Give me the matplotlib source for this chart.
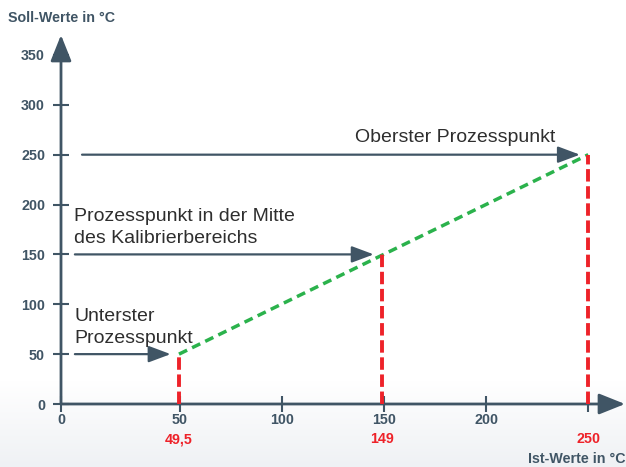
import numpy as np
import matplotlib
matplotlib.use("Agg")
import matplotlib.pyplot as plt
from matplotlib.colors import to_rgb

plt.rcParams['font.family'] = ['Liberation Sans', 'DejaVu Sans']

# data
ist_werte = [49.5, 149, 250]          # x: Ist-Werte in °C
soll_werte = [50, 150, 250]           # y: Soll-Werte in °C
ist_labels = ['49,5', '149', '250']
y_ticks = [0, 50, 100, 150, 200, 250, 300, 350]
x_ticks = [50, 100, 150, 200, 250]
x_ticklabels = ['50', '100', '150', '200', '']
notes = ['Unterster\nProzesspunkt',
         'Prozesspunkt in der Mitte\ndes Kalibrierbereichs',
         'Oberster Prozesspunkt']

AXC = '#405565'
TXT = '#2e2e2e'
RED = '#ee2229'
GREEN = '#2bb24c'

W, H = 626, 467
fig = plt.figure(figsize=(W / 100, H / 100), dpi=100)

# soft grey gradient at the bottom
bg = fig.add_axes([0, 0, 1, 1], zorder=-10)
t = np.clip((np.arange(H) - 380) / (H - 380), 0, 1)[:, None]
top = np.array(to_rgb('#ffffff'))
bot = np.array(to_rgb('#eff1f4'))
grad = top[None, None, :] * (1 - t[..., None]) + bot[None, None, :] * t[..., None]
bg.imshow(grad, aspect='auto', extent=[0, 1, 0, 1])
bg.axis('off')

ax = fig.add_axes([61 / W, (H - 404) / H, 564 / W, 369 / H])
ax.set_facecolor('none')
xmin, xmax = -8.3, 268
ax.set_xlim(xmin, xmax)
ax.set_ylim(0, 370)
for s in ax.spines.values():
    s.set_visible(False)

# axes with arrow heads
arr = dict(arrowstyle='-|>,head_length=0.8,head_width=0.32', color=AXC, lw=2,
           mutation_scale=20, shrinkA=0, shrinkB=0)
ax.annotate('', xy=(xmin, 370), xytext=(xmin, 0), arrowprops=arr, annotation_clip=False)
ax.annotate('', xy=(xmax, 0), xytext=(xmin, 0), arrowprops=arr, annotation_clip=False)

ax.set_yticks(y_ticks)
ax.set_xticks([xmin] + x_ticks)
ax.set_xticklabels(['0'] + x_ticklabels)
ax.tick_params(axis='both', direction='inout', length=11, width=1.5, color=AXC,
               labelcolor=AXC, labelsize=10.3)
ax.tick_params(axis='y', pad=6)
ax.tick_params(axis='x', pad=1)
for lab in ax.get_xticklabels() + ax.get_yticklabels():
    lab.set_fontweight('bold')

# green line between the process points
ax.plot([ist_werte[0], ist_werte[-1]], [soll_werte[0], soll_werte[-1]],
        color=GREEN, lw=2.5, ls=(0, (2.6, 1.6)), zorder=3)

# red verticals and labels
for x, y, lbl in zip(ist_werte, soll_werte, ist_labels):
    ax.plot([x, x], [0, y], color=RED, lw=2.8, ls=(0, (3.2, 1.2)), zorder=3)
    ax.annotate(lbl, xy=(x, 0), xytext=(0, -35), textcoords='offset pixels',
                ha='center', va='center', color=RED, fontsize=10.3, fontweight='bold',
                annotation_clip=False)

# horizontal arrows and notes
starts = [-1.5, -1.5, 2]
harr = dict(arrowstyle='-|>,head_length=0.75,head_width=0.28', color=AXC, lw=1.6,
            mutation_scale=18, shrinkA=0, shrinkB=6)
for x0, x, y in zip(starts, ist_werte, soll_werte):
    ax.annotate('', xy=(x, y), xytext=(x0, y), arrowprops=harr)

ax.text(-1.8, 96, notes[0], ha='left', va='top', fontsize=14, color=TXT,
        linespacing=1.4)
ax.text(-1.8, 197, notes[1], ha='left', va='top', fontsize=14, color=TXT,
        linespacing=1.4)
ax.text(135.7, 267, notes[2], ha='left', va='center', fontsize=14, color=TXT)

# axis titles
fig.text(8 / W, 1 - 18 / H, 'Soll-Werte in °C', ha='left', va='center',
         fontsize=10.3, fontweight='bold', color=AXC)
fig.text(626 / W, 1 - 459 / H, 'Ist-Werte in °C', ha='right', va='center',
         fontsize=10.3, fontweight='bold', color=AXC)

fig.savefig('out.png', dpi=100)
